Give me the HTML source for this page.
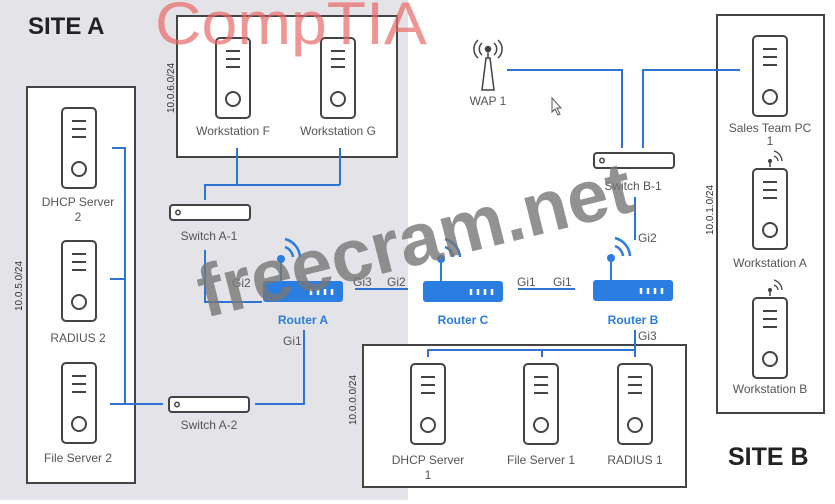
<!DOCTYPE html>
<html><head><meta charset="utf-8"><style>
html,body{margin:0;padding:0;background:#fff}
svg{display:block}
text{font-family:"Liberation Sans",sans-serif;fill:#555;font-size:12px}
.c{text-anchor:middle}
.b{fill:#2a7de1;font-weight:bold}
.ln{stroke:#2f74d0;stroke-width:2;fill:none}
.bx{fill:#fff;stroke:#444;stroke-width:2}
</style></head><body>
<svg width="835" height="504" viewBox="0 0 835 504" xmlns="http://www.w3.org/2000/svg">
<defs>
<g id="srv">
<rect x="1" y="1" width="34" height="80" rx="4" fill="#fff" stroke="#444" stroke-width="2"/>
<line x1="11" y1="14" x2="25" y2="14" stroke="#444" stroke-width="2"/>
<line x1="11" y1="22" x2="25" y2="22" stroke="#444" stroke-width="2"/>
<line x1="11" y1="30" x2="25" y2="30" stroke="#444" stroke-width="2"/>
<circle cx="18" cy="62" r="7" fill="none" stroke="#444" stroke-width="2"/>
</g>
<g id="rtr">
<rect x="0" y="0" width="80" height="21" rx="3" fill="#2a7de1"/>
<g stroke="#fff" stroke-width="2.5"><line x1="48" y1="8" x2="48" y2="14"/><line x1="55" y1="8" x2="55" y2="14"/><line x1="62" y1="8" x2="62" y2="14"/><line x1="69" y1="8" x2="69" y2="14"/></g>
<line x1="18" y1="0" x2="18" y2="-22" stroke="#2a7de1" stroke-width="2"/>
<circle cx="18" cy="-22" r="4" fill="#2a7de1"/>
<path d="M22,-34 A12,12 0 0 1 30,-24" stroke="#2a7de1" stroke-width="2.5" fill="none"/>
<path d="M22,-42 A20,20 0 0 1 37,-24" stroke="#2a7de1" stroke-width="2.5" fill="none"/>
</g>
<g id="sw">
<rect x="1" y="1" width="80" height="15" rx="3" fill="#fff" stroke="#444" stroke-width="2"/>
<circle cx="9" cy="8.5" r="2.2" fill="none" stroke="#444" stroke-width="1.5"/>
</g>
<g id="wf">
<line x1="0" y1="0" x2="0" y2="6" stroke="#444" stroke-width="1.5"/>
<circle cx="0" cy="0" r="2" fill="#444"/>
<path d="M4,-5 A6,6 0 0 1 8,0" stroke="#444" stroke-width="1.3" fill="none"/>
<path d="M4,-10 A11,11 0 0 1 12,0" stroke="#444" stroke-width="1.3" fill="none"/>
</g>
</defs>
<rect x="0" y="0" width="408" height="500" fill="#e4e4e8"/>
<text x="28" y="34" style="font-size:24px;font-weight:bold;fill:#222">SITE A</text>
<text x="728" y="465" style="font-size:25px;font-weight:bold;fill:#222">SITE B</text>

<rect class="bx" x="177" y="16" width="220" height="141"/>
<rect class="bx" x="27" y="87" width="108" height="396"/>
<rect class="bx" x="363" y="345" width="323" height="142"/>
<rect class="bx" x="717" y="15" width="107" height="398"/>
<text transform="translate(174,88) rotate(-90)" class="c" style="font-size:10px;fill:#333">10.0.6.0/24</text>
<text transform="translate(22,286) rotate(-90)" class="c" style="font-size:10px;fill:#333">10.0.5.0/24</text>
<text transform="translate(356,400) rotate(-90)" class="c" style="font-size:10px;fill:#333">10.0.0.0/24</text>
<text transform="translate(713,210) rotate(-90)" class="c" style="font-size:10px;fill:#333">10.0.1.0/24</text>

<use href="#srv" x="215" y="37"/><text class="c" x="233" y="135">Workstation F</text>
<use href="#srv" x="320" y="37"/><text class="c" x="338" y="135">Workstation G</text>
<use href="#srv" x="61" y="107"/><text class="c" x="78" y="206">DHCP Server</text><text class="c" x="78" y="221">2</text>
<use href="#srv" x="61" y="240"/><text class="c" x="78" y="342">RADIUS 2</text>
<use href="#srv" x="61" y="362"/><text class="c" x="78" y="462">File Server 2</text>
<use href="#srv" x="410" y="363"/><text class="c" x="428" y="464">DHCP Server</text><text class="c" x="428" y="479">1</text>
<use href="#srv" x="523" y="363"/><text class="c" x="541" y="464">File Server 1</text>
<use href="#srv" x="617" y="363"/><text class="c" x="635" y="464">RADIUS 1</text>
<use href="#srv" x="752" y="35"/><text class="c" x="770" y="132">Sales Team PC</text><text class="c" x="770" y="145">1</text>
<use href="#srv" x="752" y="168"/><text class="c" x="770" y="267">Workstation A</text>
<use href="#wf" x="770" y="161"/>
<use href="#srv" x="752" y="297"/><text class="c" x="770" y="393">Workstation B</text>
<use href="#wf" x="770" y="290"/>

<use href="#sw" x="169" y="204"/><text class="c" x="209" y="240">Switch A-1</text>
<use href="#sw" x="168" y="396"/><text class="c" x="209" y="429">Switch A-2</text>
<use href="#sw" x="593" y="152"/><text class="c" x="633" y="190">Switch B-1</text>

<use href="#rtr" x="263" y="281"/><text class="c b" x="303" y="324">Router A</text>
<use href="#rtr" x="423" y="281"/><text class="c b" x="463" y="324">Router C</text>
<use href="#rtr" x="593" y="280"/><text class="c b" x="633" y="324">Router B</text>

<g stroke="#444" stroke-width="1.5" fill="none">
<path d="M482,90 L486,58 L490,58 L494,90 Z"/>
<line x1="488" y1="50" x2="488" y2="58"/>
<circle cx="488" cy="49" r="2.5" fill="#444"/>
<path d="M482,43 A8,8 0 0 0 482,55"/><path d="M494,43 A8,8 0 0 1 494,55"/>
<path d="M478,40 A12,12 0 0 0 478,58"/><path d="M498,40 A12,12 0 0 1 498,58"/>
</g>
<text class="c" x="488" y="105">WAP 1</text>
<path d="M552,98 l0,14 l3,-3 l3,6 l2,-1 l-3,-6 l4,0 z" fill="#fff" stroke="#555" stroke-width="1"/>

<path class="ln" d="M237,148 V185 M340,148 V185 M205,200 V185 H340"/>
<path class="ln" d="M205,250 V302 H262"/>
<path class="ln" d="M112,148 H125 V404 M110,279 H125 M110,404 H163"/>
<path class="ln" d="M255,404 H304 V330"/>
<path class="ln" d="M355,289 H408 M518,289 H575"/>
<path class="ln" d="M507,70 H622 V148 M643,148 V70 H740"/>
<path class="ln" d="M635,197 V240"/>
<path class="ln" d="M635,330 V350 M428,357 V350 H635 M542,350 V357 M635,350 V357"/>
<text x="232" y="287">Gi2</text>
<text x="353" y="286">Gi3</text><text x="387" y="286">Gi2</text>
<text x="517" y="286">Gi1</text><text x="553" y="286">Gi1</text>
<text x="283" y="345">Gi1</text>
<text x="638" y="242">Gi2</text>
<text x="638" y="340">Gi3</text>

<text x="155" y="44" textLength="272" lengthAdjust="spacingAndGlyphs" style="font-size:60px;fill:#e86868;fill-opacity:0.7">CompTIA</text>
<text transform="translate(205,318) rotate(-14)" textLength="445" lengthAdjust="spacingAndGlyphs" style="font-size:74px;font-weight:bold;fill:#777;fill-opacity:0.8">freecram.net</text>
</svg>
</body></html>
